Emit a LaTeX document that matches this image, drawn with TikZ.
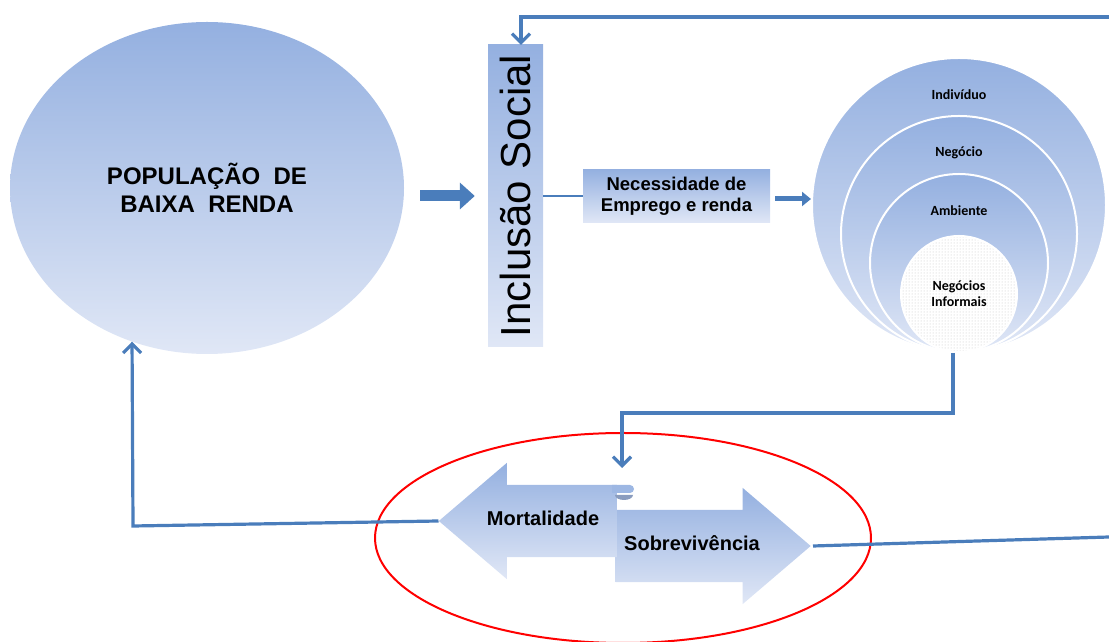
\documentclass[tikz,border=0pt]{standalone}
\usepackage{fontspec}
\setmainfont{Liberation Sans}
\newfontfamily\calibrifont{Carlito}
\usepackage{tikz}
\usetikzlibrary{shapes,shapes.geometric,shapes.arrows}
\usetikzlibrary{arrows.meta,patterns,calc}
\definecolor{lineblue}{RGB}{74,125,187}
\definecolor{gradtop}{RGB}{148,176,224}
\definecolor{gradbot}{RGB}{224,231,246}
\definecolor{curlgray}{RGB}{138,156,190}
\tikzstyle{grad}=[top color=gradtop, bottom color=gradbot, draw=none]
\tikzstyle{link}=[draw=lineblue, line width=3.2pt]
\tikzstyle{barb}=[-{Straight Barb[length=9pt,width=18pt]}]
\tikzstyle{fatarrow}=[draw=lineblue, line width=11pt, -{Triangle[length=15pt,width=26pt]}]
\tikzstyle{ring}=[circle, grad, draw=white, line width=2pt, inner sep=0pt]
\tikzstyle{circtxt}=[font=\calibrifont\bfseries\fontsize{14}{16}\selectfont, align=center]
\tikzstyle{blockarrow}=[single arrow, grad, font=\bfseries\fontsize{20}{24}\selectfont, text height=14pt, text depth=4pt, inner ysep=27pt, inner xsep=4pt, single arrow head extend=22pt, single arrow tip angle=81]

\begin{document}
\begin{tikzpicture}[x=1pt,y=1pt]
\useasboundingbox (0,0) rectangle (1109,642);
\node[ellipse, grad, minimum width=394pt, minimum height=332pt, inner sep=0pt, align=center, font=\bfseries\fontsize{24}{28}\selectfont] (pop) at (207,454) {POPULAÇÃO~~DE\\BAIXA~~RENDA};
\node[rectangle, grad, minimum width=55pt, minimum height=302pt, inner sep=0pt] (incl) at (515.5,446) {};
\node[rotate=90, font=\fontsize{42}{46}\selectfont] (incltxt) at (incl) {Inclusão Social};
\node[rectangle, grad, minimum width=187pt, minimum height=53pt, inner sep=0pt, align=center, font=\bfseries\fontsize{18.5}{21}\selectfont] (nec) at (676.5,446) {Necessidade de\\Emprego e renda};
\foreach \r/\n in {147/1,118/2,89/3} {
	\node[ring, minimum size=\r*2pt] (c\n) at (959,290+\r) {};
}
\node[circle, draw=white, line width=2pt, inner sep=0pt, minimum size=116pt, preaction={fill=white}, pattern=dots, pattern color=gray!45] (c4) at (959,348) {};
\foreach \n/\t in {1/Indivíduo,2/Negócio,3/Ambiente} {
	\node[circtxt] (l\n) at ([yshift=-38pt]c\n.north) {\t};
}
\node[circtxt] (l4) at (c4) {Negócios\\Informais};
\node[blockarrow, minimum height=195pt] (sobr) at (692,96) {Sobrevivência};
\node[blockarrow, shape border rotate=180, minimum height=178pt] (mort) at (549,121) {Mortalidade\hspace*{12pt}};
\coordinate (curl) at (624,147);
\fill[gradtop!88!gradbot] ($(curl)+(-12pt,10pt)$) -- ($(curl)+(6pt,10pt)$) arc[start angle=90, end angle=-90, radius=4pt] -- ($(curl)+(-12pt,2pt)$) -- cycle;
\fill[curlgray] ($(curl)+(-9pt,0pt)$) arc[start angle=180, end angle=360, x radius=9pt, y radius=5pt] -- cycle;
\node[ellipse, draw=red, line width=2pt, minimum width=496pt, minimum height=210pt, inner sep=0pt] (zone) at (623,104) {};
\coordinate (tr) at (1109,625);
\coordinate (lc) at (133,116);
\coordinate (rb) at (1109,105);
\draw[fatarrow] ([shift={(16pt,-8pt)}]pop.east) -- ([xshift=-13pt]incl.west);
\draw[link, line width=2.5pt] (incl.east) -- (nec.west);
\draw[link, line width=5pt, -{Triangle[length=9pt,width=14pt]}] ([shift={(5pt,-3pt)}]nec.east) -- ([yshift=6pt]c1.west);
\draw[link, barb] (tr) -| ([xshift=5.5pt]incl.north);
\draw[link, barb] ([xshift=-6pt]c1.south) -- ++(0,-60) -| ([shift={(-2pt,27pt)}]curl);
\draw[link, barb] (mort.tip) -- (lc) -- (pop.244);
\draw[link] ([xshift=2pt]sobr.tip) -- (rb);
\end{tikzpicture}
\end{document}
